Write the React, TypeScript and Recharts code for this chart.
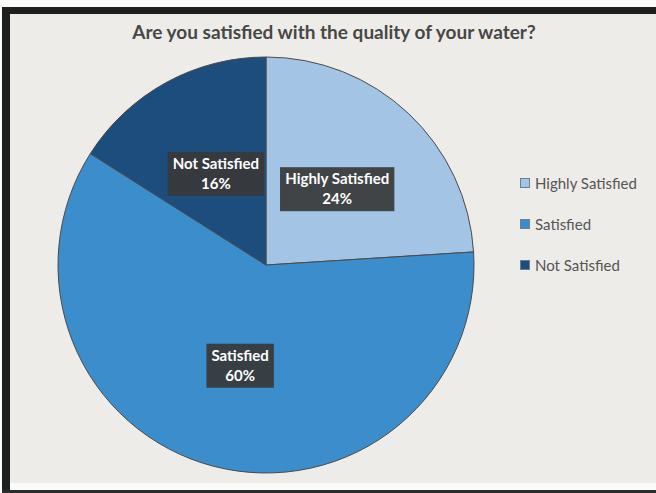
import { PieChart, Pie, Cell, Legend } from 'recharts';

// survey answers
const answers = ['Highly Satisfied', 'Satisfied', 'Not Satisfied'];
const shares = [24, 60, 16];
const sliceColors = ['#a3c4e4', '#3b8dcb', '#1c4d7d'];

const title = 'Are you satisfied with the quality of your water?';

const FONT = 'Lato, "Open Sans", sans-serif';
const RADIAN = Math.PI / 180;

const data = answers.map((name, i) => ({ name, value: shares[i] }));

let measureCtx: CanvasRenderingContext2D | null = null;
function textWidth(text: string, font: string) {
  if (!measureCtx) measureCtx = document.createElement('canvas').getContext('2d');
  if (!measureCtx) return text.length * 7;
  measureCtx.font = font;
  return measureCtx.measureText(text).width;
}

function BoxLabel(props: any) {
  const { cx, cy, midAngle, outerRadius, name, value } = props;
  const r = outerRadius * 0.5;
  const x = cx + r * Math.cos(-midAngle * RADIAN);
  const y = cy + r * Math.sin(-midAngle * RADIAN);
  const pct = `${value}%`;
  const w = Math.max(textWidth(name, `bold 15px ${FONT}`), textWidth(pct, `bold 15px ${FONT}`)) + 10;
  const h = 44;
  return (
    <g>
      <rect x={x - w / 2} y={y - h / 2} width={w} height={h} fill="#383838" fillOpacity={0.92} />
      <text x={x} y={y - 5} textAnchor="middle" fill="#ffffff" fontFamily={FONT} fontWeight={700} fontSize={15}>
        {name}
      </text>
      <text x={x} y={y + 15} textAnchor="middle" fill="#ffffff" fontFamily={FONT} fontWeight={700} fontSize={15}>
        {pct}
      </text>
    </g>
  );
}

function LegendList({ payload }: any) {
  const items = [...(payload || [])].sort(
    (a: any, b: any) => answers.indexOf(a.value) - answers.indexOf(b.value)
  );
  return (
    <div style={{ fontFamily: FONT, fontSize: 15, color: '#555' }}>
      {items.map((entry: any) => (
        <div key={entry.value} style={{ display: 'flex', alignItems: 'center', height: 41 }}>
          <span
            style={{
              display: 'inline-block',
              width: 8,
              height: 8,
              background: entry.color,
              border: '1px solid #6a7f95',
              marginRight: 5,
            }}
          />
          {entry.value}
        </div>
      ))}
    </div>
  );
}

export default function App() {
  return (
    <div style={{ position: 'relative', width: 656, height: 493, background: '#fbfbfa', overflow: 'hidden' }}>
      <style>{'body{margin:0}'}</style>
      {/* scanned frame */}
      <div style={{ position: 'absolute', left: 2, top: 7, width: 654, height: 7, background: '#1d1f1e' }} />
      <div style={{ position: 'absolute', left: 2, top: 7, width: 8, height: 486, background: '#1d1f1e' }} />
      <div style={{ position: 'absolute', left: 2, top: 490, width: 654, height: 3, background: '#2a2c2b' }} />
      <div style={{ position: 'absolute', left: 10, top: 14, width: 646, height: 469, background: '#eeece9' }} />
      <div
        style={{
          position: 'absolute',
          left: 0,
          top: 20,
          width: 656,
          textAlign: 'center',
          paddingLeft: 12,
          fontFamily: FONT,
          fontWeight: 700,
          fontSize: 19,
          color: '#474747',
          boxSizing: 'border-box',
        }}
      >
        {title}
      </div>
      <div style={{ position: 'absolute', left: 0, top: 0 }}>
        <PieChart width={656} height={493} margin={{ top: 0, right: 0, bottom: 0, left: 0 }}>
          <Pie
            data={data}
            dataKey="value"
            nameKey="name"
            cx={266}
            cy={265}
            outerRadius={208}
            startAngle={90}
            endAngle={-270}
            stroke="#4a4a4a"
            strokeWidth={1}
            labelLine={false}
            label={BoxLabel}
            isAnimationActive={false}
          >
            {data.map((d, i) => (
              <Cell key={d.name} fill={sliceColors[i]} />
            ))}
          </Pie>
          <Legend
            layout="vertical"
            align="right"
            verticalAlign="top"
            content={LegendList}
            wrapperStyle={{ left: 520, top: 162, width: 136 }}
          />
        </PieChart>
      </div>
    </div>
  );
}
